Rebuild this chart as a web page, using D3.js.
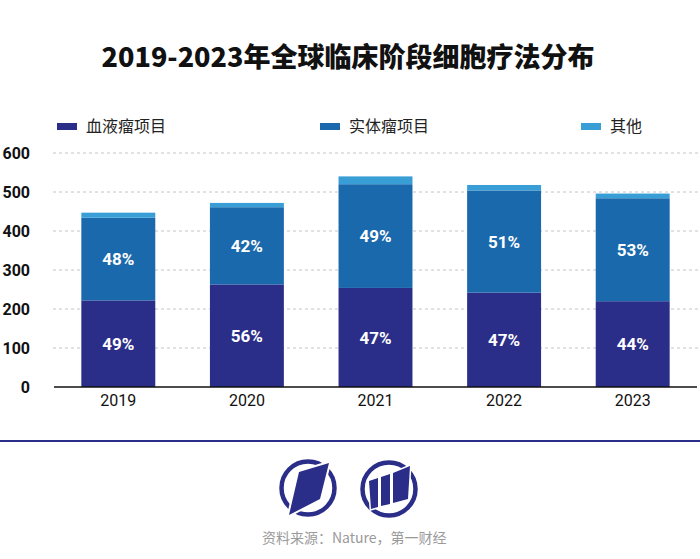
<!DOCTYPE html>
<html><head><meta charset="utf-8">
<script src="https://cdn.jsdelivr.net/npm/d3@7"></script>
<style>
html,body{margin:0;padding:0;background:#fff;}
svg{display:block;}
</style></head>
<body>
<svg id="chart" width="700" height="559"></svg>
<script>
const years = ["2019","2020","2021","2022","2023"];
const bloodValues = [222, 263, 254, 242, 220];
const solidValues = [212, 198, 266, 262, 264];
const otherValues = [13, 11, 20, 14, 12];
const bloodPct = ["49%","56%","47%","47%","44%"];
const solidPct = ["48%","42%","49%","51%","53%"];
const seriesNames = ["血液瘤项目","实体瘤项目","其他"];
const seriesColors = ["#2b2e88","#1b69ad","#3a9ed6"];
const yTicks = [0,100,200,300,400,500,600];

const svg = d3.select("#chart");
const cjk = "'Noto Sans CJK SC','Noto Sans',sans-serif";
const num = "Roboto,'DejaVu Sans',sans-serif";

// title
svg.append("text").attr("x",348).attr("y",67).attr("text-anchor","middle")
  .style("font-family",cjk).style("font-weight","900").style("font-size","27px").attr("fill","#111")
  .text("2019-2023年全球临床阶段细胞疗法分布");

const x = d3.scaleBand().domain(years).range([54,697]).paddingInner(0.425).paddingOuter(0.2125);
const y = d3.scaleLinear().domain([0,600]).range([387,153]);

// grid
svg.append("g").selectAll("line").data(yTicks.filter(d=>d>0)).join("line")
  .attr("x1",53).attr("x2",700).attr("y1",d=>y(d)).attr("y2",d=>y(d))
  .attr("stroke","#c4c4c4").attr("stroke-width",1).attr("stroke-dasharray","3,3");

// y labels
const yAxis = d3.axisLeft(y).tickValues(yTicks).tickSize(0).tickPadding(0);
const yg = svg.append("g").attr("transform","translate(30,0)").call(yAxis);
yg.select(".domain").remove();
yg.selectAll("text").style("font-family",num).style("font-weight","700").style("font-size","16px").attr("fill","#111");

// stacked data
const rows = years.map((yr,i)=>({year:yr, blood:bloodValues[i], solid:solidValues[i], other:otherValues[i]}));
const stack = d3.stack().keys(["blood","solid","other"])(rows);
svg.append("g").selectAll("g").data(stack).join("g")
  .attr("fill",(d,i)=>seriesColors[i])
  .selectAll("rect").data(d=>d).join("rect")
  .attr("x",d=>x(d.data.year)).attr("width",x.bandwidth())
  .attr("y",d=>y(d[1])).attr("height",d=>y(d[0])-y(d[1]));

// pct labels
const labG = svg.append("g").style("font-family",num).style("font-weight","700").style("font-size","17px").attr("fill","#fff");
[[0,bloodPct],[1,solidPct]].forEach(([k,arr])=>{
  labG.selectAll(null).data(stack[k]).join("text")
    .attr("x",d=>x(d.data.year)+x.bandwidth()/2)
    .attr("y",d=>(y(d[0])+y(d[1]))/2)
    .attr("dy","0.36em").attr("text-anchor","middle")
    .text((d,i)=>arr[i]);
});

// x axis
const xg = svg.append("g").attr("transform","translate(0,387)").call(d3.axisBottom(x).tickSize(0).tickPadding(8));
xg.select(".domain").attr("d","M54,0H697").attr("stroke","#111").attr("stroke-width",1.5);
xg.selectAll("text").style("font-family",num).style("font-size","16px").attr("fill","#111");

// legend
const legX = [57,320,581];
const lg = svg.append("g");
seriesNames.forEach((n,i)=>{
  lg.append("rect").attr("x",legX[i]).attr("y",123).attr("width",20).attr("height",7).attr("fill",seriesColors[i]);
  lg.append("text").attr("x",legX[i]+29).attr("y",126).attr("dy","0.36em")
    .style("font-family",cjk).style("font-size","16px").attr("fill","#222").text(n);
});

// bottom rule
svg.append("line").attr("x1",0).attr("x2",700).attr("y1",441).attr("y2",441).attr("stroke","#2b2e88").attr("stroke-width",2);

// logos
const navy = "#2b2e88";
const l1 = svg.append("g").attr("transform","translate(308,488)");
l1.append("circle").attr("r",26.5).attr("fill","none").attr("stroke",navy).attr("stroke-width",4.5);
l1.append("path").attr("d","M-9,-16 L21,-25 L12,11 L-19,27 Z").attr("fill",navy).attr("stroke","#fff").attr("stroke-width",4).attr("paint-order","stroke");
const l2 = svg.append("g").attr("transform","translate(389,489)");
l2.append("circle").attr("r",26.5).attr("fill","none").attr("stroke",navy).attr("stroke-width",4.5);
l2.append("path").attr("d","M-20,-8 L-11,-11 L-11,18 L-18,20 Z M-8,-12 L1,-15 L1,15 L-8,17 Z M4,-16 L21,-23 L19,10 L4,14 Z")
  .attr("fill",navy).attr("stroke","#fff").attr("stroke-width",3).attr("paint-order","stroke");

// source
svg.append("text").attr("x",262).attr("y",543).style("font-family",cjk).style("font-size","14px").attr("fill","#9a9a9a")
  .text("资料来源：Nature，第一财经");
</script>
</body></html>
